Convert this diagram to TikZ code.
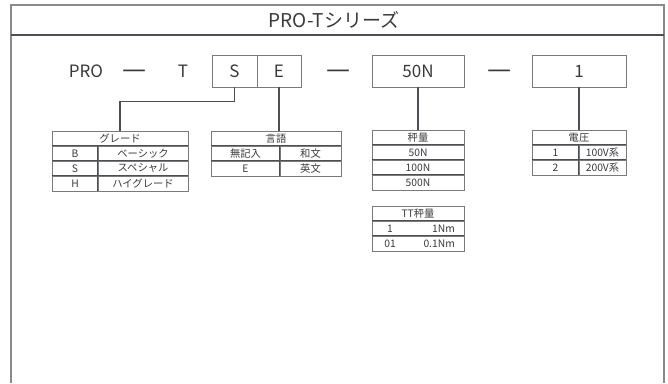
\documentclass[tikz,border=0pt]{standalone}
\usepackage{fontspec}
\setmainfont{Noto Sans CJK JP}
\usepackage{tikz}
\usetikzlibrary{positioning}
\definecolor{framegray}{HTML}{8A8A8A}
\definecolor{linedark}{HTML}{4B4F56}
\definecolor{boxgray}{HTML}{7A7A7A}
\definecolor{textgray}{HTML}{3A3A3A}
\tikzstyle{codetext}=[text=textgray, font=\fontsize{17}{20}\selectfont, inner sep=0pt]
\tikzstyle{titletext}=[text=textgray, font=\fontsize{19}{22}\selectfont, inner sep=0pt]
\tikzstyle{dashtext}=[text=textgray, font=\fontsize{27}{28}\selectfont, inner sep=0pt]
\tikzstyle{codebox}=[codetext, draw=boxgray, line width=0.8pt, minimum height=32pt]
\tikzstyle{cell}=[draw=boxgray, line width=0.8pt, minimum height=15pt, inner sep=0pt, text=textgray, font=\fontsize{10.3}{11}\selectfont]
\tikzstyle{celltext}=[inner sep=0pt, text=textgray, font=\fontsize{10.3}{11}\selectfont]
\tikzstyle{sep}=[draw=linedark, line width=1.4pt]
\tikzstyle{link}=[draw=linedark, line width=1.2pt]

\begin{document}
\begin{tikzpicture}[x=1pt, y=-1pt]
    \useasboundingbox (0,0) rectangle (668,383);
    % frame and title bar
    \draw[framegray, line width=1.6pt] (11,383) -- (11,5) -- (664,5) -- (664,383);
    \draw[linedark, line width=2pt] (11,35) -- (664,35);
    \node[titletext] (title) at (334,20) {PRO-Tシリーズ};

    % model code
    \node[codetext] (pro) at (86,71) {PRO};
    \node[dashtext] (d1) at (135,74) {—};
    \node[codetext] (t) at (183,71) {T};
    \node[codebox, minimum width=45pt] (sbox) at (234.5,71) {S};
    \node[codebox, minimum width=44pt] (ebox) at (279,71) {E};
    \node[dashtext] (d2) at (339,74) {—};
    \node[codebox, minimum width=92pt] (wbox) at (418,71) {50N};
    \node[dashtext] (d3) at (499.5,74) {—};
    \node[codebox, minimum width=94pt] (vbox) at (579,71) {1};

    % grade table
    \node[cell, minimum width=136pt] (grade) at (120,138.5) {グレード};
    \foreach \y/\sym/\txt [count=\i] in {153.5/B/ベーシック, 168.5/S/スペシャル, 183.5/H/ハイグレード} {
        \node[cell, minimum width=46pt] (gk\i) at (75,\y) {\sym};
        \node[cell, minimum width=90pt] (gv\i) at (143,\y) {\txt};
        \draw[sep] (gk\i.north west) -- (gv\i.north east);
    }
    \draw[sep] (gv1.north west) -- (gv3.south west);

    % language table
    \node[cell, minimum width=130pt] (lang) at (276,138.5) {言語};
    \foreach \y/\sym/\txt [count=\i] in {153.5/無記入/和文, 168.5/E/英文} {
        \node[cell, minimum width=69pt] (lk\i) at (245.5,\y) {\sym};
        \node[cell, minimum width=61pt] (lv\i) at (310.5,\y) {\txt};
        \draw[sep] (lk\i.north west) -- (lv\i.north east);
    }
    \draw[sep] (lv1.north west) -- (lv2.south west);

    % weight table
    \node[cell, minimum width=92pt] (weight) at (418,137.5) {秤量};
    \foreach \y/\txt [count=\i] in {152.5/50N, 167.5/100N, 182.5/500N} {
        \node[cell, minimum width=92pt] (wv\i) at (418,\y) {\txt};
        \draw[sep] (wv\i.north west) -- (wv\i.north east);
    }

    % voltage table
    \node[cell, minimum width=94pt] (volt) at (579,137.5) {電圧};
    \foreach \y/\sym/\txt [count=\i] in {152.5/1/100V系, 167.5/2/200V系} {
        \node[cell, minimum width=47pt] (vk\i) at (555.5,\y) {\sym};
        \node[cell, minimum width=47pt] (vv\i) at (602.5,\y) {\txt};
        \draw[sep] (vk\i.north west) -- (vv\i.north east);
    }
    \draw[sep] (vv1.north west) -- (vv2.south west);

    % TT weight table
    \node[cell, minimum width=92pt] (tt) at (418,213.5) {TT秤量};
    \foreach \y/\sym/\txt [count=\i] in {228.5/1/1Nm, 243.5/01/0.1Nm} {
        \node[cell, minimum width=92pt] (tr\i) at (418,\y) {};
        \node[celltext] (tk\i) at (390,\y) {\sym};
        \node[celltext, anchor=east] (tv\i) at (455,\y) {\txt};
        \draw[sep] (tr\i.north west) -- (tr\i.north east);
    }

    % connectors
    \draw[link] (sbox.south) -- ++(0,14) -| (grade.north);
    \draw[link] (ebox.south) -- (ebox.south |- lang.north);
    \draw[link] (wbox.south) -- (weight.north);
    \draw[link] (vbox.south) -- (volt.north);
\end{tikzpicture}
\end{document}
